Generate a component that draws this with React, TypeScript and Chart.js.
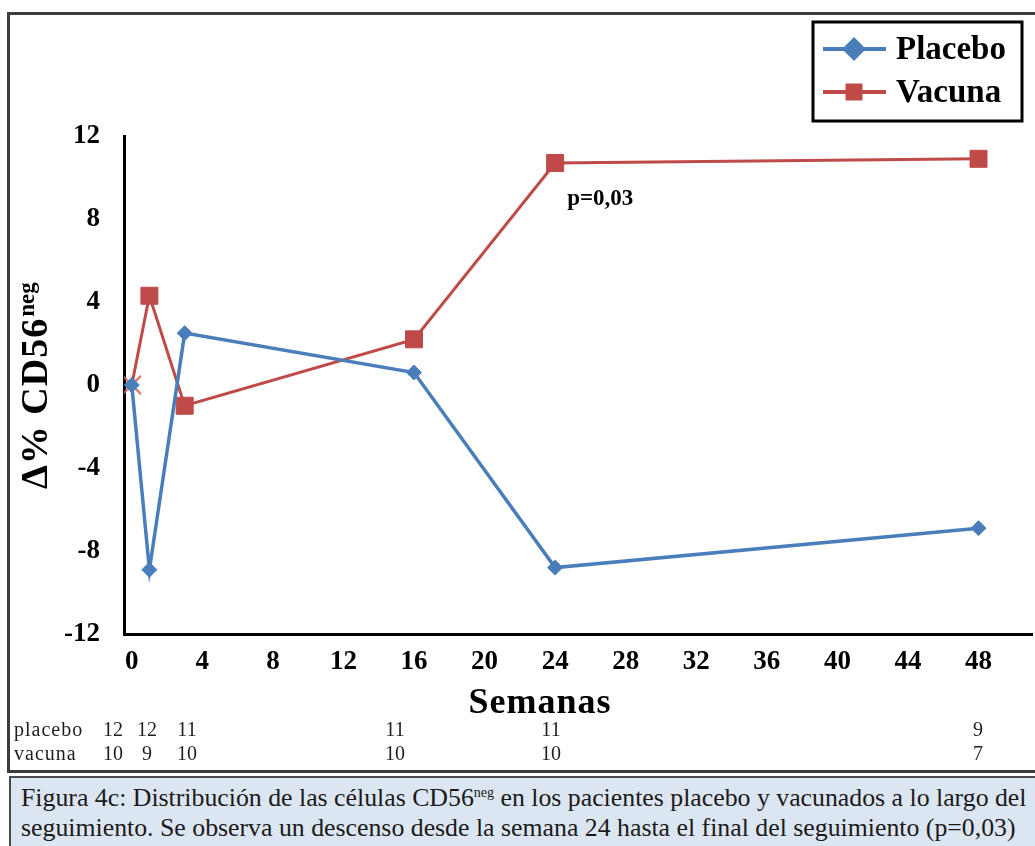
import { useEffect, useRef } from "react";
import Chart from "chart.js/auto";

// ---- data ----
const weeks = [0, 1, 3, 16, 24, 48];
const placebo = [0, -8.9, 2.5, 0.6, -8.8, -6.9];
const vacuna = [0, 4.3, -1.0, 2.2, 10.7, 10.9];
const nPlacebo = [12, 12, 11, 11, 11, 9];
const nVacuna = [10, 9, 10, 10, 10, 7];
const xTickValues = [0, 4, 8, 12, 16, 20, 24, 28, 32, 36, 40, 44, 48];
const yTickValues = [-12, -8, -4, 0, 4, 8, 12];
const seriesNames = ["Placebo", "Vacuna"];
const rowNames = ["placebo", "vacuna"];
const pLabel = "p=0,03";
const xTitle = "Semanas";
const yTitleMain = "\u0394% CD56";
const yTitleSup = "neg";

// ---- layout / style ----
const W = 1035;
const H = 846;
const CANVAS_W = 1048;
const CANVAS_H = 770;
const BLUE = "#4A7EBB";
const RED = "#BE4B48";
const SERIF = "'Liberation Serif', 'Times New Roman', serif";
const countColX = [113, 147, 187, 395, 551, 978];

const overlayPlugin = {
  id: "overlay",
  afterDraw(chart: any) {
    const ctx = chart.ctx;
    const xs = chart.scales.x;
    const ys = chart.scales.y;
    ctx.save();

    // legend box
    ctx.lineWidth = 3;
    ctx.strokeStyle = "#000";
    ctx.strokeRect(813, 22, 209, 99);
    chart.data.datasets.forEach((ds: any, i: number) => {
      const ly = 49 + i * 43;
      ctx.strokeStyle = ds.borderColor;
      ctx.lineWidth = 4;
      ctx.beginPath();
      ctx.moveTo(823, ly);
      ctx.lineTo(886, ly);
      ctx.stroke();
      ctx.fillStyle = ds.borderColor;
      ctx.beginPath();
      if (i === 0) {
        const r = 12;
        ctx.moveTo(854 - r, ly);
        ctx.lineTo(854, ly - r);
        ctx.lineTo(854 + r, ly);
        ctx.lineTo(854, ly + r);
        ctx.closePath();
      } else {
        ctx.rect(854 - 8.5, ly - 8.5, 17, 17);
      }
      ctx.fill();
      ctx.fillStyle = "#000";
      ctx.font = `bold 33px ${SERIF}`;
      ctx.textBaseline = "middle";
      ctx.textAlign = "left";
      ctx.fillText(seriesNames[i], 896, ly + 1);
    });

    // y title
    ctx.save();
    ctx.translate(47, 489);
    ctx.rotate(-Math.PI / 2);
    ctx.fillStyle = "#000";
    ctx.textBaseline = "alphabetic";
    ctx.textAlign = "left";
    ctx.font = `bold 38px ${SERIF}`;
    (ctx as any).letterSpacing = "1px";
    ctx.fillText(yTitleMain, 0, 0);
    const wMain = ctx.measureText(yTitleMain).width;
    ctx.font = `bold 23px ${SERIF}`;
    (ctx as any).letterSpacing = "0px";
    ctx.fillText(yTitleSup, wMain + 1, -13);
    ctx.restore();

    // x title
    ctx.fillStyle = "#000";
    ctx.font = `bold 36px ${SERIF}`;
    (ctx as any).letterSpacing = "1px";
    ctx.textAlign = "center";
    ctx.textBaseline = "alphabetic";
    ctx.fillText(xTitle, 540, 713);
    (ctx as any).letterSpacing = "0px";

    // p label
    const px = xs.getPixelForValue(weeks[4]);
    const py = ys.getPixelForValue(vacuna[4]);
    ctx.font = `bold 23px ${SERIF}`;
    ctx.textAlign = "left";
    ctx.textBaseline = "alphabetic";
    ctx.fillText(pLabel, px + 12, py + 42);

    // counts table
    ctx.fillStyle = "#1e1e1e";
    ctx.font = `20px ${SERIF}`;
    ctx.textBaseline = "middle";
    [nPlacebo, nVacuna].forEach((row, r) => {
      const ry = 731 + r * 24;
      ctx.textAlign = "left";
      (ctx as any).letterSpacing = "1px";
      ctx.fillText(rowNames[r], 14, ry);
      (ctx as any).letterSpacing = "0px";
      ctx.textAlign = "center";
      row.forEach((v, k) => ctx.fillText(String(v), countColX[k], ry));
    });

    ctx.restore();
  },
};

export default function App() {
  const ref = useRef<HTMLCanvasElement | null>(null);
  useEffect(() => {
    if (!ref.current) return;
    const tickFont = { family: SERIF, size: 27, weight: "bold" as const };
    const chart = new Chart(ref.current, {
      type: "line",
      data: {
        datasets: [
          {
            label: seriesNames[0],
            data: weeks.map((w, i) => ({ x: w, y: placebo[i] })),
            borderColor: BLUE,
            backgroundColor: BLUE,
            borderWidth: 3.5,
            pointStyle: "rectRot",
            pointRadius: 7.5,
            pointBorderWidth: 1,
            pointBackgroundColor: BLUE,
            pointBorderColor: BLUE,
          },
          {
            label: seriesNames[1],
            data: weeks.map((w, i) => ({ x: w, y: vacuna[i] })),
            borderColor: RED,
            backgroundColor: RED,
            borderWidth: 3,
            pointStyle: weeks.map((_, i) => (i === 0 ? "crossRot" : "rect")) as any,
            pointRadius: weeks.map((_, i) => (i === 0 ? 13 : 12)),
            pointBorderWidth: weeks.map((_, i) => (i === 0 ? 2.5 : 1)),
            pointBackgroundColor: RED,
            pointBorderColor: weeks.map((_, i) => (i === 0 ? "rgba(205,95,95,0.8)" : RED)),
          },
        ],
      },
      options: {
        responsive: false,
        animation: false,
        devicePixelRatio: 1,
        layout: { padding: { top: 136, right: 2, bottom: 0, left: 0 } },
        plugins: { legend: { display: false }, tooltip: { enabled: false } },
        scales: {
          x: {
            type: "linear",
            min: -0.44,
            max: 51.06,
            grid: { display: false, drawTicks: false },
            border: { display: true, color: "#000", width: 3 },
            ticks: { font: tickFont, color: "#000", padding: 12, maxRotation: 0 },
            afterBuildTicks: (s: any) => {
              s.ticks = xTickValues.map((v) => ({ value: v }));
            },
            afterFit: (s: any) => {
              s.height = 136;
            },
          },
          y: {
            type: "linear",
            min: -12,
            max: 12,
            grid: { display: false, drawTicks: false },
            border: { display: true, color: "#000", width: 3 },
            ticks: { font: tickFont, color: "#000", padding: 24 },
            afterBuildTicks: (s: any) => {
              s.ticks = yTickValues.map((v) => ({ value: v }));
            },
            afterFit: (s: any) => {
              s.width = 124;
            },
          },
        },
      },
      plugins: [overlayPlugin],
    });
    return () => chart.destroy();
  }, []);

  return (
    <div style={{ position: "fixed", left: 0, top: 0, width: W, height: H, overflow: "hidden", background: "#fff" }}>
      <div
        style={{
          position: "absolute",
          left: 7,
          top: 12,
          width: 1100,
          height: 755,
          border: "3px solid #3c3c3c",
          background: "#fff",
        }}
      />
      <canvas
        ref={ref}
        width={CANVAS_W}
        height={CANVAS_H}
        style={{ position: "absolute", left: 0, top: 0, width: CANVAS_W, height: CANVAS_H }}
      />
      <div
        style={{
          position: "absolute",
          left: 9,
          top: 776,
          width: 1100,
          height: 100,
          border: "2px solid #4a4a4a",
          background: "#DCE6F2",
          boxSizing: "border-box",
          padding: "5px 0 0 10px",
          fontFamily: SERIF,
          fontSize: 25.8,
          lineHeight: "30px",
          color: "#1a1a1a",
          whiteSpace: "nowrap",
        }}
      >
        <div>
          Figura 4c: Distribución de las células CD56<sup style={{ fontSize: 14, verticalAlign: "9px", lineHeight: 0 }}>neg</sup> en los pacientes placebo y vacunados a lo largo del
        </div>
        <div>seguimiento. Se observa un descenso desde la semana 24 hasta el final del seguimiento (p=0,03)</div>
      </div>
    </div>
  );
}
